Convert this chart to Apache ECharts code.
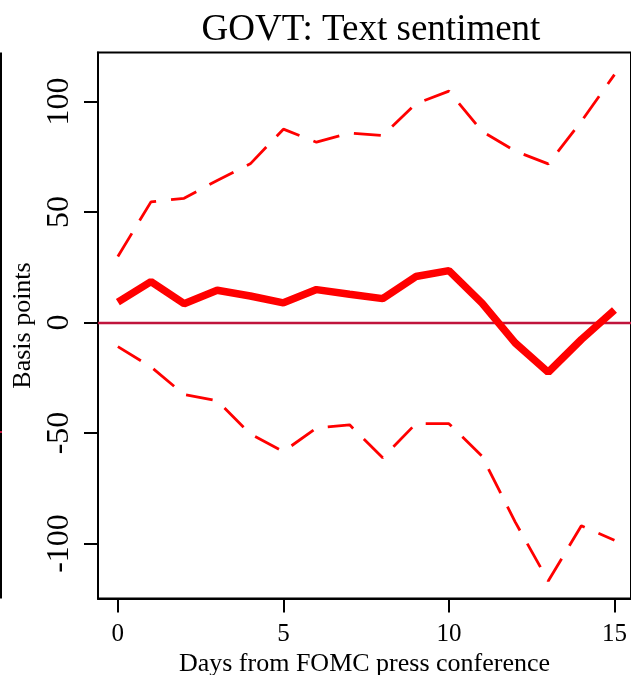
<!DOCTYPE html>
<html>
<head>
<meta charset="utf-8">
<script src="https://cdn.jsdelivr.net/npm/echarts@6/dist/echarts.min.js"></script>
<style>
  html, body { margin: 0; padding: 0; background: #fff; }
  #chart { width: 631px; height: 675px; }
</style>
</head>
<body>
<div id="chart"></div>
<script>
// days after the press conference
const days = [0, 1, 2, 3, 4, 5, 6, 7, 8, 9, 10, 11, 12, 13, 14, 15];

// point estimate and confidence band (basis points)
const estimate = [9.2, 18.5, 8.5, 14.6, 12.0, 8.9, 14.9, 12.8, 10.8, 20.8, 23.5, 8.8, -9.2, -22.5, -7.7, 5.7];
const upperBand = [29.9, 54.6, 56.2, 64.3, 71.8, 87.5, 81.6, 85.8, 84.6, 99.0, 104.7, 86.5, 77.6, 71.8, 91.0, 112.2];
const lowerBand = [-10.9, -20.1, -32.6, -35.4, -50.4, -58.4, -47.7, -46.3, -61.2, -45.8, -45.8, -60.5, -90.2, -117.0, -92.0, -98.5];

// tick labels
const xTicks = [0, 5, 10, 15];
const yTicks = [-100, -50, 0, 50, 100];

const serif = 'Liberation Serif';

const pairs = (ys) => days.map((d, i) => [d, ys[i]]);

const getOption = () => {
	return {
		animation: false,
		backgroundColor: '#fff',
		title: {
			text: 'GOVT: Text sentiment',
			left: 366,
			top: 7,
			textAlign: 'center',
			textStyle: { fontFamily: serif, fontSize: 37, fontWeight: 'normal', color: '#000' }
		},
		grid: {
			left: 98,
			top: 52.5,
			width: 533,
			height: 546,
			outerBoundsMode: 'none',
			show: true,
			borderColor: '#000',
			borderWidth: 2
		},
		xAxis: {
			type: 'value',
			min: -0.6,
			max: 15.5,
			name: 'Days from FOMC press conference',
			nameLocation: 'middle',
			nameGap: 45,
			nameTextStyle: { fontFamily: serif, fontSize: 26, color: '#000' },
			splitLine: { show: false },
			axisLine: { show: true, onZero: false, lineStyle: { color: '#000', width: 2 } },
			axisTick: { show: true, customValues: xTicks, length: 14, lineStyle: { color: '#000', width: 2 } },
			axisLabel: { customValues: xTicks, margin: 23, fontFamily: serif, fontSize: 25, color: '#000' }
		},
		yAxis: {
			type: 'value',
			min: -124.9,
			max: 122.2,
			name: 'Basis points',
			nameLocation: 'middle',
			nameRotate: 90,
			nameGap: 54,
			nameTextStyle: { fontFamily: serif, fontSize: 26, color: '#000' },
			splitLine: { show: false },
			axisLine: { show: true, onZero: false, lineStyle: { color: '#000', width: 2 } },
			axisTick: { show: true, customValues: yTicks, length: 14, lineStyle: { color: '#000', width: 2 } },
			axisLabel: { customValues: yTicks, rotate: 90, margin: 22, fontFamily: serif, fontSize: 32, color: '#000' }
		},
		// right border and zero line of the neighbouring panel
		graphic: [
			{ type: 'line', shape: { x1: 1, y1: 52.5, x2: 1, y2: 598.5 }, style: { stroke: '#000', lineWidth: 2 } },
			{ type: 'rect', shape: { x: 0, y: 431, width: 2, height: 2 }, style: { fill: '#C0143C' } }
		],
		series: [
			{
				name: 'Upper',
				type: 'line',
				data: pairs(upperBand),
				showSymbol: false,
				lineStyle: { color: '#FF0000', width: 2.8, type: [27, 15] }
			},
			{
				name: 'Lower',
				type: 'line',
				data: pairs(lowerBand),
				showSymbol: false,
				lineStyle: { color: '#FF0000', width: 2.8, type: [27, 15] },
				markLine: {
					silent: true,
					symbol: 'none',
					label: { show: false },
					lineStyle: { color: '#C0143C', width: 2.3, type: 'solid' },
					data: [{ yAxis: 0 }]
				}
			},
			{
				name: 'Estimate',
				type: 'line',
				z: 10,
				data: pairs(estimate),
				showSymbol: false,
				lineStyle: { color: '#FF0000', width: 7.5 }
			}
		]
	};
};

const chart = echarts.init(document.getElementById('chart'));
chart.setOption(getOption());
</script>
</body>
</html>
